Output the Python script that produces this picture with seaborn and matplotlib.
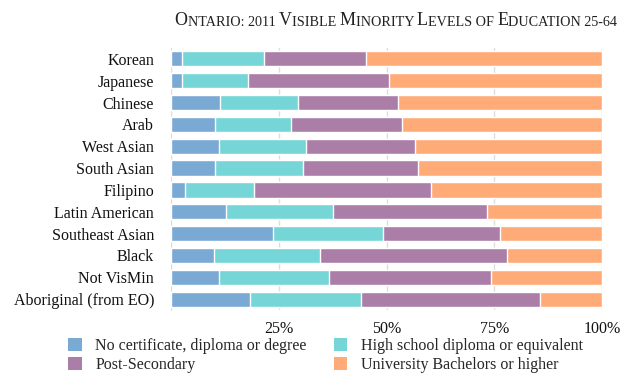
import numpy as np
import pandas as pd
import matplotlib
matplotlib.use("Agg")
import matplotlib.pyplot as plt
import seaborn as sns
from matplotlib.patches import Patch

groups = ["Korean", "Japanese", "Chinese", "Arab", "West Asian", "South Asian",
          "Filipino", "Latin American", "Southeast Asian", "Black", "Not VisMin",
          "Aboriginal (from EO)"]
no_cert = [2.6, 2.6, 11.4, 10.2, 11.1, 10.2, 3.2, 12.8, 23.6, 10.1, 11.1, 18.4]
high_school = [19.0, 15.3, 18.0, 17.7, 20.2, 20.5, 16.1, 24.8, 25.5, 24.5, 25.6, 25.6]
post_sec = [23.7, 32.6, 23.2, 25.6, 25.3, 26.5, 40.9, 35.7, 27.3, 43.4, 37.6, 41.5]
university = [54.7, 49.5, 47.4, 46.5, 43.4, 42.8, 39.8, 26.7, 23.6, 22.0, 25.7, 14.5]

series = ["No certificate, diploma or degree", "High school diploma or equivalent",
          "Post-Secondary", "University Bachelors or higher"]
colors = ["#7aa9d4", "#76d5d6", "#ab7ea8", "#ffab78"]

sns.set_style("white")
plt.rcParams["font.family"] = ["Liberation Serif", "DejaVu Serif"]

df = pd.DataFrame({"group": groups, "a": no_cert, "b": high_school,
                   "c": post_sec, "d": university})
# normalise each row to 100%
tot = df[["a", "b", "c", "d"]].sum(axis=1)
for k in ["a", "b", "c", "d"]:
    df[k] = df[k] / tot * 100
df["cum_a"] = df["a"]
df["cum_b"] = df["cum_a"] + df["b"]
df["cum_c"] = df["cum_b"] + df["c"]
df["cum_d"] = df["cum_c"] + df["d"]

fig = plt.figure(figsize=(6.3, 3.8), dpi=100)
ax = fig.add_axes([0.271, 0.184, 0.685, 0.690])

# draw cumulative bars from the widest to the narrowest so they stack
for col, c in zip(["cum_d", "cum_c", "cum_b", "cum_a"], colors[::-1]):
    sns.barplot(data=df, x=col, y="group", orient="h", color=c,
                width=0.7, saturation=1, ax=ax, zorder=3)

ax.set_xlim(0, 100)
ax.set_xticks([0, 25, 50, 75, 100])
ax.set_xticklabels(["", "25%", "50%", "75%", "100%"])
ax.set_xlabel("")
ax.set_ylabel("")
ax.grid(axis="x", color="#dddddd", linewidth=1, zorder=0)
for s in ["top", "right", "bottom"]:
    ax.spines[s].set_visible(False)
ax.spines["left"].set_color("#dddddd")
ax.tick_params(axis="both", length=0, labelsize=11.5, colors="#111111")
ax.tick_params(axis="x", pad=8)
ax.tick_params(axis="y", pad=12)

# title in small caps, built piece by piece
big, small = 13, 10.2
pieces = [("O", big), ("NTARIO: 2011 ", small), ("V", big), ("ISIBLE ", small),
          ("M", big), ("INORITY ", small), ("L", big), ("EVELS OF ", small),
          ("E", big), ("DUCATION 25-64", small)]
prev = fig.text(0.277, 0.935, pieces[0][0], fontsize=pieces[0][1], color="#222222",
                va="baseline")
for txt, sz in pieces[1:]:
    prev = ax.annotate(txt, xy=(1, 0), xycoords=prev, fontsize=sz,
                       color="#222222", va="bottom", ha="left")

# legend filled row by row like the reference
order = [0, 2, 1, 3]
handles = [Patch(facecolor=colors[i], edgecolor="none") for i in order]
labels = [series[i] for i in order]
fig.legend(handles, labels, loc="lower left", bbox_to_anchor=(0.108, 0.018),
           ncol=2, frameon=False, fontsize=11.5, handlelength=0.85,
           handleheight=0.85, columnspacing=1.7, labelspacing=0.2,
           handletextpad=0.85, borderpad=0, borderaxespad=0)

fig.savefig("out.png", dpi=100)
